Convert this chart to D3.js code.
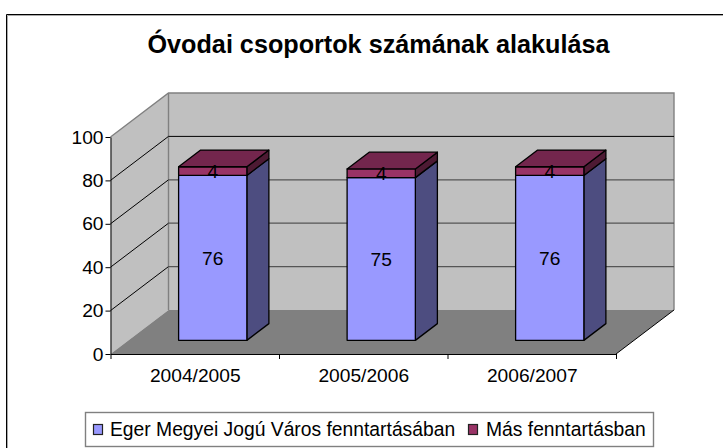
<!DOCTYPE html>
<html>
<head>
<meta charset="utf-8">
<script src="https://cdn.jsdelivr.net/npm/d3@7"></script>
<style>
	html, body { margin: 0; padding: 0; background: white; overflow: hidden; }
	svg { display: block; font-family: "Liberation Sans", Arial, sans-serif; }
	.tick text { font-size: 19.2px; fill: black; }
</style>
</head>
<body>
<svg id="chart" width="723" height="448"></svg>
<script>
var categories = ["2004/2005", "2005/2006", "2006/2007"];
var egerValues = [76, 75, 76];
var otherValues = [4, 4, 4];
var seriesNames = ["Eger Megyei Jogú Város fenntartásában", "Más fenntartásban"];
var yTicks = [0, 20, 40, 60, 80, 100];
var chartTitle = "Óvodai csoportok számának alakulása";

var seriesColors = [
	{ front: "#9999ff", side: "#4d4d80" },
	{ front: "#993366", side: "#4d1a33", top: "#73264d" }
];

var svg = d3.select("#chart");

var left = 110.5, right = 616, bottom = 354, top100 = 137;
// how far the back wall is pushed away from the front plane
var depthX = 58, depthY = 44;
var barFront = 0.31, barBack = 0.69;

var x = d3.scaleBand()
	.domain(categories)
	.range([left, right])
	.paddingInner(0.595)
	.paddingOuter(0.2975);
var xEdges = d3.scaleLinear().domain([0, categories.length]).range([left, right]);
var y = d3.scaleLinear().domain([0, 100]).range([bottom, top100]);

var rows = categories.map(function(c, i) {
	return { category: c, eger: egerValues[i], other: otherValues[i] };
});
var stacked = d3.stack().keys(["eger", "other"])(rows);

function poly(points) {
	return d3.line()(points) + "Z";
}

// frame, only the top and left edges show in the crop
svg.append("path").attr("d", "M7.5,448V15.5H723").attr("fill", "none").attr("stroke", "#aaa").attr("stroke-width", 1);
svg.append("path").attr("d", "M6.5,448V14.5H723").attr("fill", "none").attr("stroke", "black").attr("stroke-width", 1);

svg.append("text")
	.attr("x", 378.5)
	.attr("y", 53)
	.attr("text-anchor", "middle")
	.attr("font-size", "25.2px")
	.attr("font-weight", "bold")
	.text(chartTitle);

// walls and floor
var walls = svg.append("g");
walls.append("path")
	.attr("d", poly([[left + depthX, y(100) - depthY], [right + depthX, y(100) - depthY], [right + depthX, bottom - depthY], [left + depthX, bottom - depthY]]))
	.attr("fill", "#c0c0c0");
walls.append("path")
	.attr("d", poly([[left, y(100)], [left + depthX, y(100) - depthY], [left + depthX, bottom - depthY], [left, bottom]]))
	.attr("fill", "#c0c0c0");
walls.append("path")
	.attr("d", poly([[left, bottom], [right, bottom], [right + depthX, bottom - depthY], [left + depthX, bottom - depthY]]))
	.attr("fill", "#808080");
walls.append("path")
	.attr("d", d3.line()([[left, y(100)], [left + depthX, y(100) - depthY], [right + depthX, y(100) - depthY], [right + depthX, bottom - depthY]]))
	.attr("fill", "none").attr("stroke", "#808080").attr("stroke-width", 1.4);
walls.append("path")
	.attr("d", d3.line()([[left + depthX, y(100) - depthY], [left + depthX, bottom - depthY]]))
	.attr("fill", "none").attr("stroke", "#808080").attr("stroke-width", 1.4);
walls.append("path")
	.attr("d", d3.line()([[right, bottom], [right + depthX, bottom - depthY]]))
	.attr("fill", "none").attr("stroke", "black").attr("stroke-width", 1);

// gridlines, the side wall part is black, on the back wall only the 80 line stays crisp
var grid = svg.append("g");
yTicks.filter(function(t) { return t > 0 && t < 100; }).forEach(function(t) {
	grid.append("path")
		.attr("d", d3.line()([[left, y(t)], [left + depthX, y(t) - depthY]]))
		.attr("fill", "none").attr("stroke", "black").attr("stroke-width", 1);
	grid.append("path")
		.attr("d", d3.line()([[left + depthX, y(t) - depthY], [right + depthX, y(t) - depthY]]))
		.attr("fill", "none")
		.attr("stroke", t == 80 ? "black" : "#555")
		.attr("stroke-width", t == 80 ? 1 : 1.3);
});

// bars, lower segment first so the upper one sits on it
stacked.forEach(function(layer, s) {
	var colors = seriesColors[s];
	layer.forEach(function(d) {
		var x0 = x(d.data.category) , x1 = x0 + x.bandwidth();
		var fx = depthX * barFront, fy = depthY * barFront;
		var bx = depthX * barBack, by = depthY * barBack;
		var yLow = y(d[0]), yHigh = y(d[1]);
		var g = svg.append("g").attr("stroke", "black").attr("stroke-width", 1.3).attr("stroke-linejoin", "round");
		g.append("path")
			.attr("d", poly([[x1 + fx, yLow - fy], [x1 + bx, yLow - by], [x1 + bx, yHigh - by], [x1 + fx, yHigh - fy]]))
			.attr("fill", colors.side);
		g.append("path")
			.attr("d", poly([[x0 + fx, yLow - fy], [x1 + fx, yLow - fy], [x1 + fx, yHigh - fy], [x0 + fx, yHigh - fy]]))
			.attr("fill", colors.front);
		if (colors.top) {
			g.append("path")
				.attr("d", poly([[x0 + fx, yHigh - fy], [x1 + fx, yHigh - fy], [x1 + bx, yHigh - by], [x0 + bx, yHigh - by]]))
				.attr("fill", colors.top);
		}
	});
});

// value labels
stacked.forEach(function(layer) {
	layer.forEach(function(d) {
		svg.append("text")
			.attr("x", x(d.data.category) + x.bandwidth() / 2 + depthX * barFront)
			.attr("y", (y(d[0]) + y(d[1])) / 2 - depthY * barFront)
			.attr("dy", "0.36em")
			.attr("text-anchor", "middle")
			.attr("font-size", "19.2px")
			.text(d[1] - d[0]);
	});
});

// axes
var yAxis = d3.axisLeft(y).tickValues(yTicks).tickSize(5).tickPadding(2).tickSizeOuter(0);
svg.append("g").attr("transform", "translate(" + left + ",0)").call(yAxis);

var xTicks = d3.axisBottom(xEdges).tickValues(d3.range(categories.length + 1)).tickFormat("").tickSize(5).tickSizeOuter(0);
svg.append("g").attr("transform", "translate(0," + bottom + ")").call(xTicks);

var xLabels = d3.axisBottom(d3.scalePoint().domain(categories).range([xEdges(0.5), xEdges(2.5)]))
	.tickSize(0).tickPadding(14);
var xLabelAxis = svg.append("g").attr("transform", "translate(0," + bottom + ")").call(xLabels);
xLabelAxis.select(".domain").remove();

svg.selectAll(".domain, .tick line").attr("stroke", "black").attr("stroke-width", 1);

// legend
var legend = svg.append("g");
legend.append("rect")
	.attr("x", 85.5).attr("y", 412.5).attr("width", 568).attr("height", 34)
	.attr("fill", "white").attr("stroke", "#808080").attr("stroke-width", 1.4);
var legendX = [93.5, 468.5], legendTextX = [110, 486];
seriesNames.forEach(function(name, i) {
	legend.append("rect")
		.attr("x", legendX[i]).attr("y", 424.5).attr("width", 9).attr("height", 10)
		.attr("fill", seriesColors[i].front).attr("stroke", "#222").attr("stroke-width", 1.2);
	legend.append("text")
		.attr("x", legendTextX[i]).attr("y", 435.5)
		.attr("font-size", "19.3px")
		.text(name);
});
</script>
</body>
</html>
